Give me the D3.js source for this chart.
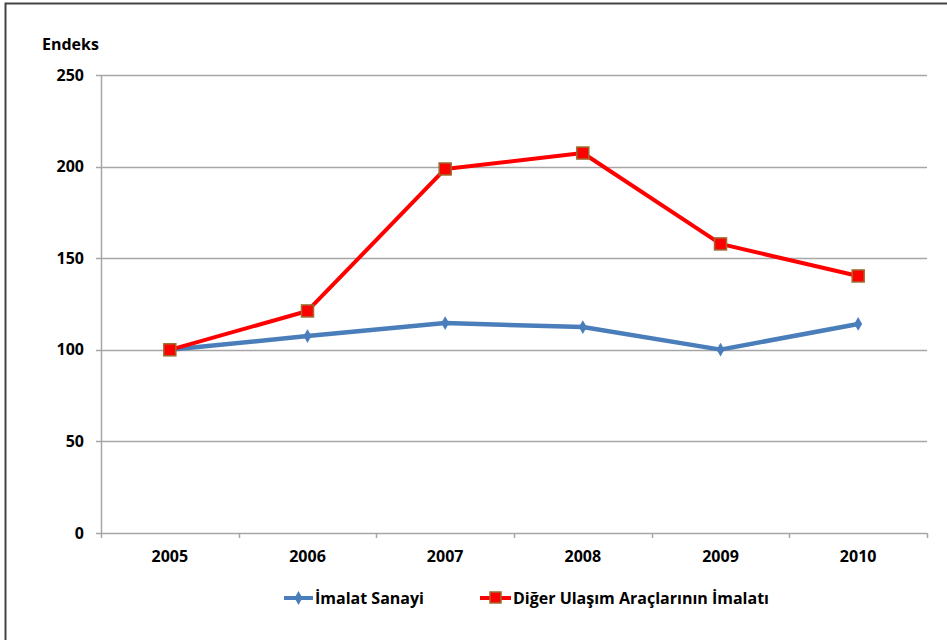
<html>
  <head>
    <style>
      body { margin: 0; background: #fff; }
      .tick-text { font-family: "Open Sans", sans-serif; font-size: 16px; font-weight: 700; fill: #000; }
    </style>
  </head>
  <body>
    <div id="chart"></div>
    <script src="https://d3js.org/d3.v7.min.js"></script>
    <script>
        var years = ["2005", "2006", "2007", "2008", "2009", "2010"];
        var imalat = [100, 107.5, 114.6, 112.4, 100.1, 114.1];
        var diger = [100, 121.2, 198.7, 207.4, 157.8, 140.3];
        var yTicks = [0, 50, 100, 150, 200, 250];
        var seriesNames = ["İmalat Sanayi", "Diğer Ulaşım Araçlarının İmalatı"];

        var width = 947, height = 640;
        var plotLeft = 101, plotRight = 927, plotTop = 75, plotBottom = 533;

        var svg = d3.select("#chart").append("svg")
            .attr("width", width)
            .attr("height", height);

        // outer frame (only top and left visible)
        svg.append("path")
            .attr("d", "M5.5,640 V3.5 H947")
            .attr("fill", "none")
            .attr("stroke", "#444")
            .attr("stroke-width", 2);

        var x = d3.scaleBand().domain(years).range([plotLeft, plotRight]);
        var y = d3.scaleLinear().domain([0, 250]).range([plotBottom, plotTop]);

        // gridlines
        svg.append("g").selectAll("line")
            .data(yTicks)
            .enter().append("line")
            .attr("x1", plotLeft - 5)
            .attr("x2", plotRight)
            .attr("y1", d => Math.round(y(d)) + 0.5)
            .attr("y2", d => Math.round(y(d)) + 0.5)
            .attr("stroke", "#a6a6a6")
            .attr("stroke-width", 1.5);

        // y axis line
        svg.append("line")
            .attr("x1", plotLeft + 0.5).attr("x2", plotLeft + 0.5)
            .attr("y1", plotTop).attr("y2", plotBottom + 5)
            .attr("stroke", "#a6a6a6").attr("stroke-width", 1.5);

        // x ticks at band boundaries
        var bounds = years.map(d => x(d)).concat([plotRight]);
        svg.append("g").selectAll("line")
            .data(bounds.slice(1))
            .enter().append("line")
            .attr("x1", d => Math.round(d) + 0.5)
            .attr("x2", d => Math.round(d) + 0.5)
            .attr("y1", plotBottom)
            .attr("y2", plotBottom + 5)
            .attr("stroke", "#a6a6a6").attr("stroke-width", 1.5);

        // y labels
        svg.append("g").selectAll("text")
            .data(yTicks)
            .enter().append("text")
            .attr("class", "tick-text")
            .attr("x", 84)
            .attr("y", d => y(d))
            .attr("dy", "0.35em")
            .attr("text-anchor", "end")
            .text(d => d);

        // x labels
        svg.append("g").selectAll("text")
            .data(years)
            .enter().append("text")
            .attr("class", "tick-text")
            .attr("x", d => x(d) + x.bandwidth() / 2)
            .attr("y", 562)
            .attr("text-anchor", "middle")
            .text(d => d);

        svg.append("text")
            .attr("class", "tick-text")
            .attr("x", 42).attr("y", 50)
            .text("Endeks");

        var line = d3.line()
            .x((d, i) => x(years[i]) + x.bandwidth() / 2)
            .y(d => y(d));

        // blue series
        svg.append("path")
            .datum(imalat)
            .attr("d", line)
            .attr("fill", "none")
            .attr("stroke", "#4a7ebb")
            .attr("stroke-width", 4.5)
            .attr("stroke-linejoin", "round");

        var diamond = d3.symbol().type(d3.symbolDiamond).size(55);
        svg.append("g").selectAll("path")
            .data(imalat)
            .enter().append("path")
            .attr("d", diamond)
            .attr("transform", (d, i) => "translate(" + (x(years[i]) + x.bandwidth() / 2) + "," + y(d) + ")")
            .attr("fill", "#4a7ebb");

        // red series
        svg.append("path")
            .datum(diger)
            .attr("d", line)
            .attr("fill", "none")
            .attr("stroke", "#ff0000")
            .attr("stroke-width", 4)
            .attr("stroke-linejoin", "round");

        svg.append("g").selectAll("rect")
            .data(diger)
            .enter().append("rect")
            .attr("x", (d, i) => x(years[i]) + x.bandwidth() / 2 - 6)
            .attr("y", d => y(d) - 6)
            .attr("width", 12).attr("height", 12)
            .attr("fill", "#ff0000")
            .attr("stroke", "#9c6b2e")
            .attr("stroke-width", 1.5);

        // legend
        var leg = svg.append("g");
        leg.append("line").attr("x1", 284).attr("x2", 313).attr("y1", 598).attr("y2", 598)
            .attr("stroke", "#4a7ebb").attr("stroke-width", 4);
        leg.append("path").attr("d", diamond).attr("transform", "translate(298.5,598)")
            .attr("fill", "#4a7ebb");
        leg.append("text").attr("class", "tick-text")
            .attr("x", 315).attr("y", 598).attr("dy", "0.35em")
            .text(seriesNames[0]);

        leg.append("line").attr("x1", 480).attr("x2", 511).attr("y1", 598).attr("y2", 598)
            .attr("stroke", "#ff0000").attr("stroke-width", 4);
        leg.append("rect").attr("x", 490).attr("y", 592).attr("width", 11).attr("height", 11)
            .attr("fill", "#ff0000").attr("stroke", "#9c6b2e").attr("stroke-width", 1.5);
        leg.append("text").attr("class", "tick-text")
            .attr("x", 513).attr("y", 598).attr("dy", "0.35em")
            .text(seriesNames[1]);
    </script>
  </body>
</html>
